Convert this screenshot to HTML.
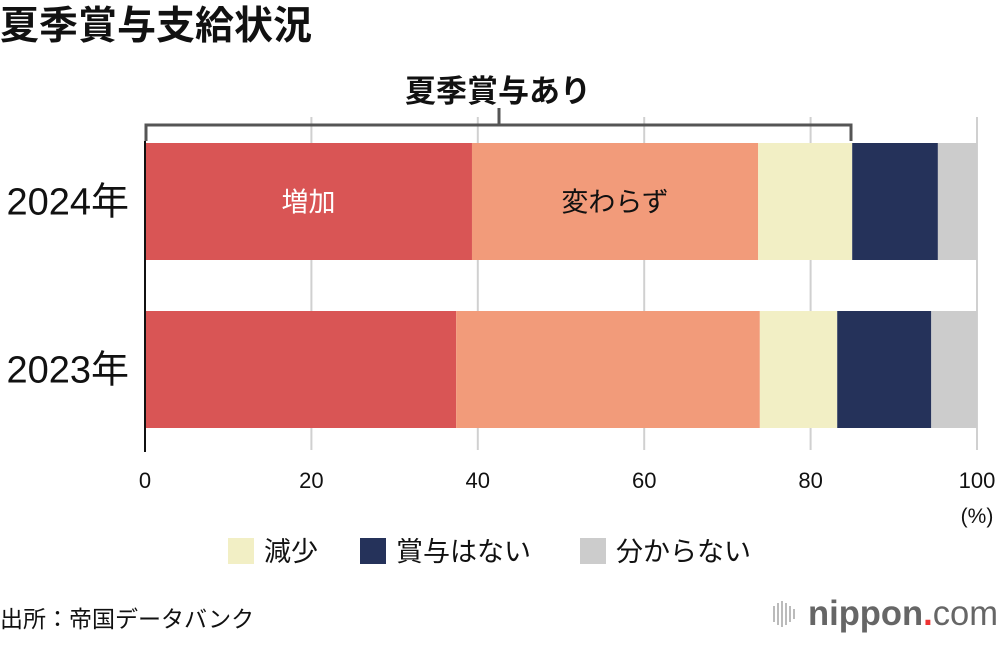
<!DOCTYPE html>
<html><head><meta charset="utf-8"><style>
body{margin:0;width:1000px;height:640px;background:#fff;font-family:"Liberation Sans","Noto Sans CJK JP",sans-serif;overflow:hidden}
</style></head><body>
<svg width="1000" height="640" style="font-family:'Liberation Sans','Noto Sans CJK JP',sans-serif">
<text x="0" y="39" font-size="39" font-weight="bold" fill="#111">夏季賞与支給状況</text>
<g id="grid"></g>
<g id="bars"></g>
<g fill="none" stroke="#555" stroke-width="3">
<path d="M146 141 V125 H851 V141 M499 125 V108"/>
</g>
<text x="498" y="102" font-size="31" font-weight="bold" text-anchor="middle" fill="#111">夏季賞与あり</text>
<g id="axis"></g>
<text x="977" y="523" font-size="21" text-anchor="middle" fill="#111">(%)</text>
<g id="legend"></g>
<text x="0" y="627" font-size="23" fill="#111">出所：帝国データバンク</text>
<g>
<g fill="#bbb"><rect x="773" y="606" width="2" height="16"/><rect x="777" y="603" width="2" height="22"/><rect x="781" y="601" width="2" height="26"/><rect x="785" y="603" width="2" height="22"/><rect x="789" y="606" width="2" height="16"/><rect x="793" y="609" width="2" height="10"/></g>
<text x="808" y="625" font-size="35" font-weight="bold" fill="#666" textLength="190" lengthAdjust="spacingAndGlyphs">nippon<tspan fill="#e33">.</tspan><tspan font-weight="normal">com</tspan></text>
</g>
</svg>
<script>
const categories=["2024年","2023年"];
const seriesNames=["増加","変わらず","減少","賞与はない","分からない"];
const colors=["#d95555","#f29b7a","#f2efc5","#25325a","#cccccc"];
const increase=[39.3,37.4];
const same=[34.4,36.5];
const decrease=[11.3,9.3];
const none=[10.3,11.3];
const unknown=[4.7,5.5];
const ticks=[0,20,40,60,80,100];
const series=[increase,same,decrease,none,unknown];
const NS="http://www.w3.org/2000/svg";
const x0=145,x1=977;
const xs=v=>x0+(x1-x0)*v/100;
const barTop=[143,311],barH=117;
function el(t,a,p){const e=document.createElementNS(NS,t);for(const k in a)e.setAttribute(k,a[k]);document.getElementById(p).appendChild(e);return e;}
ticks.forEach(t=>{
 if(t>0){const g=el('line',{x1:xs(t),x2:xs(t),y1:117,y2:450,stroke:'#d0d0d0','stroke-width':2},'grid');
 
 }
 const tx=el('text',{x:xs(t),y:488,'font-size':22,'text-anchor':'middle',fill:'#111'},'axis');tx.textContent=t;
 
 
});
categories.forEach((c,i)=>{
 let acc=0;
 series.forEach((s,j)=>{
  const r=el('rect',{x:xs(acc),y:barTop[i],width:xs(acc+s[i])-xs(acc),height:barH,fill:colors[j]},'bars');
  
  
  if(i===0&&j<2){const t=el('text',{x:(xs(acc)+xs(acc+s[i]))/2,y:barTop[i]+barH/2+10,'font-size':27,'text-anchor':'middle',fill:j===0?'#fff':'#111'},'bars');t.textContent=seriesNames[j];
   
   }
  acc+=s[i];
 });
 const l=el('text',{x:129,y:barTop[i]+barH/2+13,'font-size':38,'text-anchor':'end',fill:'#111'},'axis');l.textContent=c;
 
 
});
const ax=el('line',{x1:x0,x2:x0,y1:141,y2:452,stroke:'#111','stroke-width':2},'axis');


const lx=[228,360,580];
[2,3,4].forEach((j,k)=>{
 const r=el('rect',{x:lx[k],y:538,width:26,height:26,fill:colors[j]},'legend');
 
 
 const t=el('text',{x:lx[k]+36,y:561,'font-size':27,fill:'#111'},'legend');t.textContent=seriesNames[j];
 
 
});
</script>
</body></html>
